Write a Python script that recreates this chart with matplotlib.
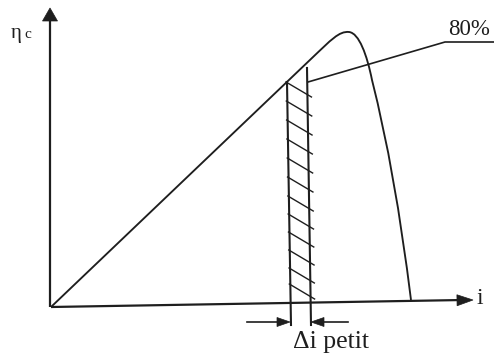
import matplotlib
matplotlib.use("Agg")
import matplotlib.pyplot as plt
from matplotlib.path import Path
from matplotlib.patches import PathPatch, Polygon
import numpy as np

# ---- diagram values (pixel space of the reference picture) ----
origin = (51, 307)
x_axis_end = (473, 300)
y_axis_end = (50, 8)

# efficiency curve: rising straight part, rounded peak, falling branch
rise_x = [51, 312]
rise_y = [307, 58]
peak_ctrl_x = [331, 339, 349, 359, 367, 372]
peak_ctrl_y = [40, 31, 32, 33, 55, 80]
fall_ctrl_x = [395, 411]
fall_ctrl_y = [170, 300]

# hatched strip (small current interval)
strip_left = [(287, 82), (291, 325)]
strip_right = [(307, 68), (311, 325)]
hatch_y = [82, 101, 120, 139, 158, 177, 196, 214, 232, 250, 268, 284]

# leader to the "80%" label
leader_x = [308, 445, 494]
leader_y = [82, 42, 42]

label_eta = "η"
label_eta_sub = "c"
label_i = "i"
label_pct = "80%"
label_di = "Δi petit"

INK = "#1e1e1e"
LW = 1.35

fig = plt.figure(figsize=(4.94, 3.54), dpi=100)
ax = fig.add_axes([0, 0, 1, 1])
ax.set_xlim(0, 494)
ax.set_ylim(354, 0)
ax.axis("off")


def arrow_head(tip, frm, length, width):
    t = np.array(tip, float)
    f = np.array(frm, float)
    d = t - f
    d /= np.hypot(*d)
    n = np.array([-d[1], d[0]])
    base = t - d * length
    pts = [t, base + n * width / 2, base - n * width / 2]
    ax.add_patch(Polygon(pts, closed=True, facecolor=INK, edgecolor=INK, lw=0.5))


# axes
ax.plot([origin[0], x_axis_end[0] - 10], [origin[1], x_axis_end[1]], color=INK, lw=1.6,
        solid_capstyle="butt")
arrow_head(x_axis_end, origin, 16, 11)
ax.plot([origin[0] - 1, y_axis_end[0]], [origin[1], y_axis_end[1] + 8], color=INK, lw=1.6,
        solid_capstyle="butt")
arrow_head(y_axis_end, (origin[0] - 1, origin[1]), 13, 15)

# curve via Bezier path
verts = [(rise_x[0], rise_y[0]), (rise_x[1], rise_y[1]),
         (peak_ctrl_x[0], peak_ctrl_y[0]), (peak_ctrl_x[1], peak_ctrl_y[1]), (peak_ctrl_x[2], peak_ctrl_y[2]),
         (peak_ctrl_x[3], peak_ctrl_y[3]), (peak_ctrl_x[4], peak_ctrl_y[4]), (peak_ctrl_x[5], peak_ctrl_y[5]),
         (fall_ctrl_x[0], fall_ctrl_y[0]), (fall_ctrl_x[1], fall_ctrl_y[1])]
codes = [Path.MOVETO, Path.LINETO,
         Path.CURVE4, Path.CURVE4, Path.CURVE4,
         Path.CURVE4, Path.CURVE4, Path.CURVE4,
         Path.CURVE3, Path.CURVE3]
ax.add_patch(PathPatch(Path(verts, codes), facecolor="none", edgecolor=INK, lw=LW))

# strip
for seg in (strip_left, strip_right):
    ax.plot([seg[0][0], seg[1][0]], [seg[0][1], seg[1][1]], color=INK, lw=1.5)


def x_on(seg, y):
    (x0, y0), (x1, y1) = seg
    return x0 + (x1 - x0) * (y - y0) / (y1 - y0)


for hy in hatch_y:
    xl = x_on(strip_left, hy) - 1
    xr = x_on(strip_right, hy + 14) + 4
    ax.plot([xl, xr], [hy, hy + 15], color=INK, lw=1.0)

# delta-i arrows
ay = 322
ax.plot([247, 278], [ay, ay], color=INK, lw=1.2)
arrow_head((290, ay), (247, ay), 13, 9)
ax.plot([323, 348], [ay, ay], color=INK, lw=1.2)
arrow_head((311, ay), (348, ay), 13, 9)

# leader
ax.plot(leader_x, leader_y, color=INK, lw=1.2)

serif = ["Liberation Serif", "DejaVu Serif"]
ax.text(11, 38, label_eta, fontsize=15, family=serif, color=INK, ha="left", va="baseline")
ax.text(24, 38, label_eta_sub, fontsize=11, family=serif, color=INK, ha="left", va="baseline")
ax.text(476, 304, label_i, fontsize=17, family=serif, color=INK, ha="left", va="baseline")
ax.text(469, 35, label_pct, fontsize=16.5, family=serif, color=INK, ha="center", va="baseline")
ax.text(331, 348, label_di, fontsize=18.5, family=serif, color=INK, ha="center", va="baseline")

fig.savefig("out.png", dpi=100)
